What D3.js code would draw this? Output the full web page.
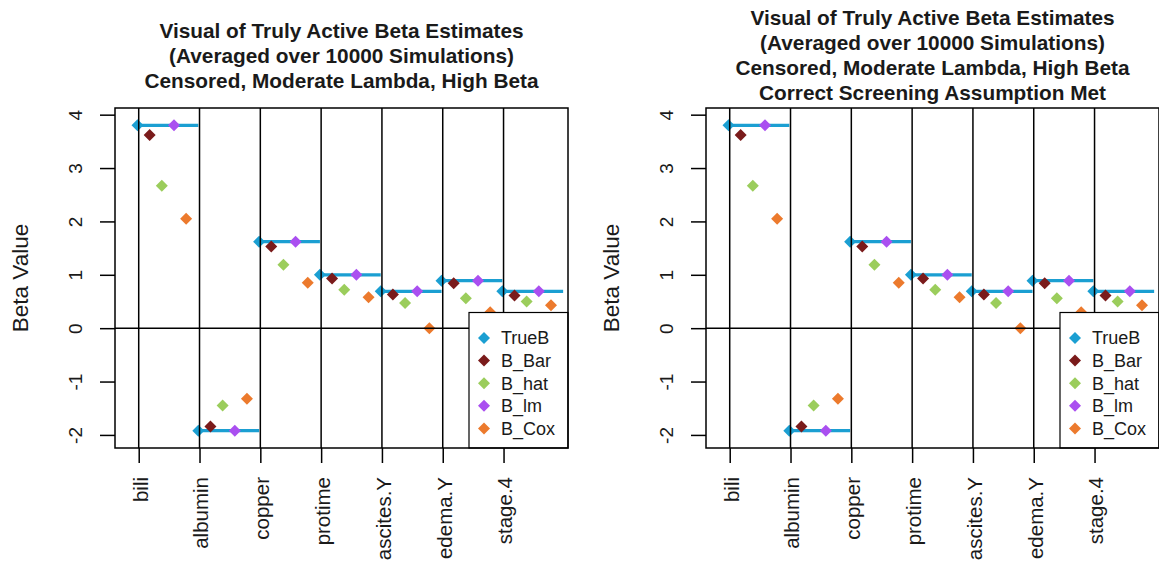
<!DOCTYPE html>
<html>
<head>
<meta charset="utf-8">
<script src="https://cdn.jsdelivr.net/npm/d3@7"></script>
<style>
  html, body { margin: 0; padding: 0; background: #fff; }
  svg { display: block; font-family: "Liberation Sans", Arial, sans-serif; }
</style>
</head>
<body>
<svg id="chart" width="1159" height="581"></svg>
<script>
// Active covariates and averaged estimates
const categories = ["bili", "albumin", "copper", "protime", "ascites.Y", "edema.Y", "stage.4"];
const seriesNames = ["TrueB", "B_Bar", "B_hat", "B_lm", "B_Cox"];
const trueB = [3.80, -1.92, 1.62, 1.00, 0.69, 0.89, 0.69];
const bBar  = [3.62, -1.84, 1.53, 0.93, 0.63, 0.84, 0.61];
const bHat  = [2.67, -1.45, 1.19, 0.72, 0.47, 0.56, 0.50];
const bLm   = [3.80, -1.92, 1.62, 1.00, 0.69, 0.89, 0.69];
const bCox  = [2.05, -1.32, 0.85, 0.58, 0.00, 0.30, 0.43];
const yTicks = [-2, -1, 0, 1, 2, 3, 4];
const seriesColors = ["#1B9FD2", "#7A1B1B", "#9BCD5C", "#AA4FF0", "#EC7A2D"];

const titleLeft = [
  "Visual of Truly Active Beta Estimates",
  "(Averaged over 10000 Simulations)",
  "Censored, Moderate Lambda, High Beta"
];
const titleRight = titleLeft.concat(["Correct Screening Assumption Met"]);

const allSeries = [trueB, bBar, bHat, bLm, bCox];
const nSer = seriesNames.length;

const svg = d3.select("#chart");
const diamond = r => `M0,${-r}L${r},0L0,${r}L${-r},0Z`;
const txtColor = "#1a1a1a";

function panel(offsetX, titleLines) {
  const left = 115 + offsetX, right = 568 + offsetX, top = 108, bottom = 448;
  const g = svg.append("g");

  const x = d3.scaleLinear().domain([-0.85, 36.4]).range([left, right]);
  const y = d3.scaleLinear().domain([-2.245, 4.125]).range([bottom, top]);

  // points: each covariate occupies five consecutive slots
  const pts = [];
  categories.forEach((c, i) => {
    allSeries.forEach((s, j) => {
      pts.push({ x: nSer * i + j + 1, v: s[i], color: seriesColors[j] });
    });
  });

  const clip = "clip" + offsetX;
  g.append("clipPath").attr("id", clip).append("rect")
    .attr("x", left).attr("y", top).attr("width", right - left).attr("height", bottom - top);
  const plot = g.append("g").attr("clip-path", `url(#${clip})`);

  // true beta level carried across each covariate block
  plot.selectAll("line.trueSeg").data(categories).join("line")
    .attr("x1", (d, i) => x(nSer * i + 1))
    .attr("x2", (d, i) => x(nSer * (i + 1) + 1))
    .attr("y1", (d, i) => y(trueB[i]))
    .attr("y2", (d, i) => y(trueB[i]))
    .attr("stroke", seriesColors[0]).attr("stroke-width", 3.2);

  plot.selectAll("path.pt").data(pts).join("path")
    .attr("d", diamond(6))
    .attr("transform", d => `translate(${x(d.x)},${y(d.v)})`)
    .attr("fill", d => d.color);

  // reference lines
  plot.selectAll("line.vref").data(categories).join("line")
    .attr("x1", (d, i) => x(nSer * i + 1.1)).attr("x2", (d, i) => x(nSer * i + 1.1))
    .attr("y1", top).attr("y2", bottom)
    .attr("stroke", "#000").attr("stroke-width", 1.5);
  plot.append("line")
    .attr("x1", left).attr("x2", right).attr("y1", y(0)).attr("y2", y(0))
    .attr("stroke", "#000").attr("stroke-width", 1.5);

  // legend (bottom right)
  const lg = g.append("g");
  const lgLeft = 469 + offsetX, lgTop = 312.5;
  lg.append("rect").attr("x", lgLeft).attr("y", lgTop)
    .attr("width", right - lgLeft).attr("height", bottom - lgTop)
    .attr("fill", "#fff").attr("stroke", "#000").attr("stroke-width", 1.2);
  const legendLabels = ["TrueB", "B_Bar", "B_hat", "B_lm", "B_Cox"];
  legendLabels.forEach((lab, j) => {
    const ly = lgTop + 25.5 + j * 22.6;
    lg.append("path").attr("d", diamond(6))
      .attr("transform", `translate(${lgLeft + 15},${ly})`)
      .attr("fill", seriesColors[j]);
    lg.append("text").attr("x", lgLeft + 32).attr("y", ly)
      .attr("dy", "0.36em").attr("font-size", 18).attr("fill", txtColor)
      .text(lab);
  });

  // frame
  g.append("rect").attr("x", left).attr("y", top)
    .attr("width", right - left).attr("height", bottom - top)
    .attr("fill", "none").attr("stroke", "#000").attr("stroke-width", 1.5);

  // y axis
  const yAxis = d3.axisLeft(y).tickValues(yTicks).tickSize(15).tickPadding(0).tickFormat(d => String(d));
  const ya = g.append("g").attr("transform", `translate(${left},0)`).call(yAxis);
  ya.select(".domain").remove();
  ya.selectAll(".tick line").attr("stroke", "#000").attr("stroke-width", 1.5);
  ya.selectAll(".tick text")
    .attr("x", null).attr("dy", null)
    .attr("text-anchor", "middle")
    .attr("transform", "translate(-40,0) rotate(-90)")
    .attr("dy", "0.36em")
    .attr("font-size", 19).attr("fill", txtColor).attr("font-family", "Liberation Sans, Arial, sans-serif");

  g.append("text")
    .attr("transform", `translate(${offsetX + 20},${(top + bottom) / 2}) rotate(-90)`)
    .attr("text-anchor", "middle").attr("dy", "0.36em")
    .attr("font-size", 22.5).attr("fill", txtColor)
    .text("Beta Value");

  // x axis
  const xAxis = d3.axisBottom(x)
    .tickValues(categories.map((c, i) => nSer * i + 1.1))
    .tickFormat((d, i) => categories[i]).tickSize(15).tickPadding(0);
  const xa = g.append("g").attr("transform", `translate(0,${bottom})`).call(xAxis);
  xa.select(".domain").remove();
  xa.selectAll(".tick line").attr("stroke", "#000").attr("stroke-width", 1.5);
  xa.selectAll(".tick text")
    .attr("y", null).attr("dy", null)
    .attr("text-anchor", "end")
    .attr("transform", "translate(1,29) rotate(-90)")
    .attr("dy", "0.36em")
    .attr("font-size", 20.5).attr("fill", txtColor).attr("font-family", "Liberation Sans, Arial, sans-serif");

  // title
  const cx = (left + right) / 2;
  const lh = 25;
  const y0 = 55.5 - (titleLines.length - 1) * lh / 2;
  titleLines.forEach((t, k) => {
    g.append("text").attr("x", cx).attr("y", y0 + k * lh)
      .attr("dy", "0.36em").attr("text-anchor", "middle")
      .attr("font-size", 20.8).attr("font-weight", "bold").attr("fill", txtColor)
      .text(t);
  });
}

panel(0, titleLeft);
panel(591, titleRight);
</script>
</body>
</html>
